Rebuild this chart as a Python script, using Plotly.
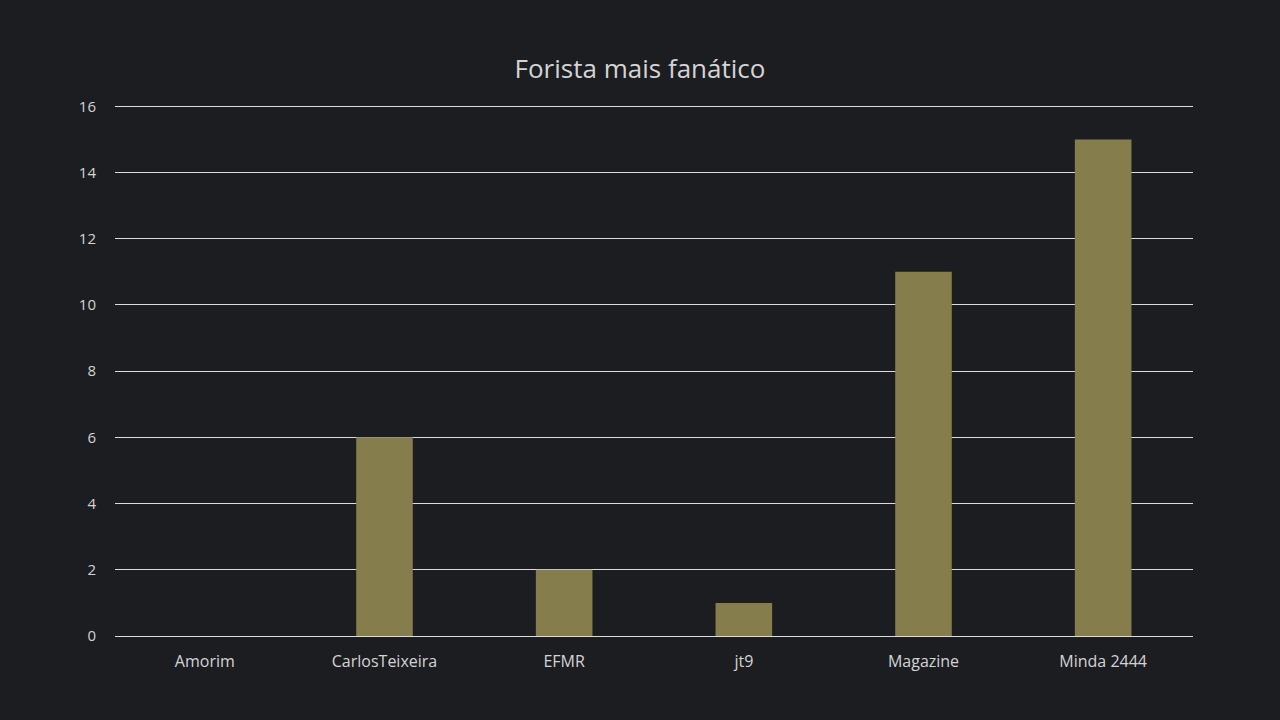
import plotly.graph_objects as go

categories = ["Amorim", "CarlosTeixeira", "EFMR", "jt9", "Magazine", "Minda 2444"]
votes = [0, 6, 2, 1, 11, 15]
y_ticks = [0, 2, 4, 6, 8, 10, 12, 14, 16]

BG = "#1c1d21"
BAR = "#857d4c"
TEXT = "#d4d4d4"
FONT = "Open Sans, Lato, sans-serif"

fig = go.Figure()
fig.add_trace(go.Bar(
    x=categories,
    y=votes,
    marker=dict(color=BAR, line=dict(width=0)),
    hoverinfo="x+y",
))

fig.update_layout(
    title=dict(text="Forista mais fanático", x=0.5, xanchor="center", y=0.904, yanchor="middle",
               font=dict(family=FONT, size=26, color=TEXT)),
    width=1280,
    height=720,
    paper_bgcolor=BG,
    plot_bgcolor=BG,
    margin=dict(l=115, r=87, t=103, b=84),
    bargap=0.685,
    showlegend=False,
    font=dict(family=FONT, size=15, color=TEXT),
)
fig.update_xaxes(showgrid=False, showline=False, zeroline=False, ticks="",
                 ticklabelstandoff=14, tickfont=dict(size=16, color=TEXT))
fig.update_yaxes(range=[0, 16.1], tickmode="array", tickvals=y_ticks,
                 showgrid=True, gridcolor="#dcdcdc", gridwidth=1,
                 zeroline=True, zerolinecolor="#dcdcdc", zerolinewidth=1,
                 showline=False, ticks="", ticklabelstandoff=18,
                 tickfont=dict(size=15, color=TEXT))

fig.write_html("out.html", config={"displayModeBar": False},
               post_script="document.body.style.margin='0';document.body.style.background='#1c1d21';")
